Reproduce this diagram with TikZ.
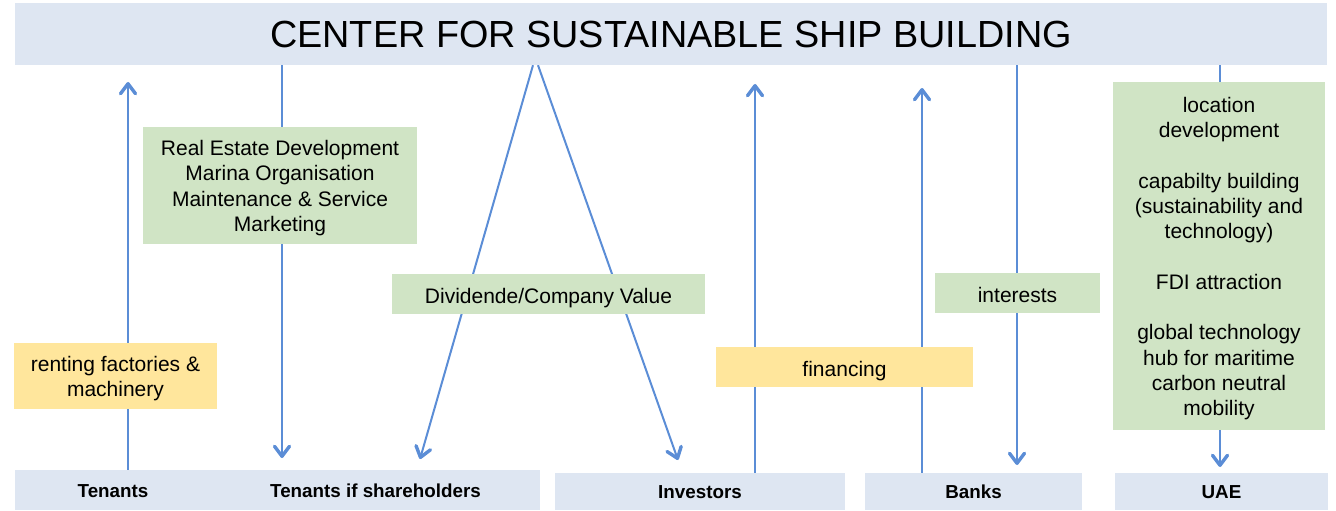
\documentclass[tikz,border=0pt]{standalone}
\usepackage{fontspec}
\setmainfont{Liberation Sans}
\usetikzlibrary{arrows.meta}
\definecolor{barblue}{HTML}{DEE6F2}
\definecolor{boxgreen}{HTML}{D0E4C5}
\definecolor{boxyellow}{HTML}{FFE69C}
\definecolor{flowblue}{HTML}{5B8DD6}
\pgfdeclarelayer{bg}
\pgfsetlayers{bg,main}

\begin{document}
\begin{tikzpicture}[x=1pt, y=-1pt,
    bar/.style={fill=barblue, inner sep=0pt, text height=14pt, text depth=0pt, font=\fontsize{18.8}{22}\selectfont\bfseries},
    note/.style={fill=boxgreen, inner sep=0pt, align=center, text depth=0pt, text height=18pt, font=\fontsize{21}{25.3}\selectfont},
    hint/.style={note, fill=boxyellow},
    flow/.style={draw=flowblue, line width=2pt, -{Straight Barb[length=10pt,width=15pt,line width=3.4pt,round]}}]
    \useasboundingbox (0,0) rectangle (1336,511);

    % --- Titel oben ---
    \node[bar, minimum width=1312pt, minimum height=62pt, text height=27pt, font=\fontsize{37.8}{40}\selectfont] (title) at (671,34) {CENTER FOR SUSTAINABLE SHIP BUILDING};

    % --- Beteiligte unten ---
    \node[bar, minimum width=196pt, minimum height=40pt] (ten) at (113,490) {Tenants};
    \node[bar, minimum width=329pt, minimum height=40pt] (tensh) at (375.5,490) {Tenants if shareholders};
    \node[bar, minimum width=290pt, minimum height=37pt] (inv) at (700,491.5) {Investors};
    \node[bar, minimum width=217pt, minimum height=37pt] (bank) at (973.5,491.5) {Banks};
    \node[bar, minimum width=213pt, minimum height=37pt] (uae) at (1221.5,491.5) {UAE};

    % --- Leistungen (gruen) ---
    \node[note, minimum width=274pt, minimum height=117pt, text height=91.9pt] (services) at (280,185.5) {Real Estate Development\\Marina Organisation\\Maintenance \& Service\\Marketing};
    \node[note, minimum width=313pt, minimum height=40pt] (dividend) at (548.5,294) {Dividende/Company Value};
    \node[note, minimum width=165pt, minimum height=40pt] (interest) at (1017.5,293) {interests};
    \node[note, minimum width=212pt, minimum height=348pt, text height=319.6pt] (goals) at (1219,256) {location\\development\\[25.3pt]capabilty building\\(sustainability and\\technology)\\[25.3pt]FDI attraction\\[25.3pt]global technology\\hub for maritime\\carbon neutral\\mobility};

    % --- Beitraege (gelb) ---
    \node[hint, minimum width=203pt, minimum height=66pt, text height=41.3pt] (renting) at (115.5,376) {renting factories \&\\machinery};
    \node[hint, minimum width=257pt, minimum height=40pt] (financing) at (844.5,367) {financing};

    % --- Pfeilenden ---
    \coordinate (tenTip) at (128,82);
    \coordinate (svcTip) at (282,458);
    \coordinate (apexL) at (533,0);
    \coordinate (apexR) at (538,0);
    \coordinate (divL) at (420,459);
    \coordinate (divR) at (678,460);
    \coordinate (invTip) at (755,84);
    \coordinate (bankTip) at (922,88);
    \coordinate (intTip) at (1017,465);
    \coordinate (uaeTip) at (1220,467);

    % --- Pfeile (hinter den Kaesten) ---
    \begin{pgfonlayer}{bg}
        \draw[flow] (ten.north -| tenTip) -- (tenTip);
        \draw[flow] (title.south -| svcTip) -- (svcTip);
        \draw[flow] (title.south -| apexL) -- (divL);
        \draw[flow] (title.south -| apexR) -- (divR);
        \draw[flow] (inv.north -| invTip) -- (invTip);
        \draw[flow] (bank.north -| bankTip) -- (bankTip);
        \draw[flow] (title.south -| intTip) -- (intTip);
        \draw[flow] (title.south -| uaeTip) -- (uaeTip);
    \end{pgfonlayer}

\end{tikzpicture}
\end{document}
